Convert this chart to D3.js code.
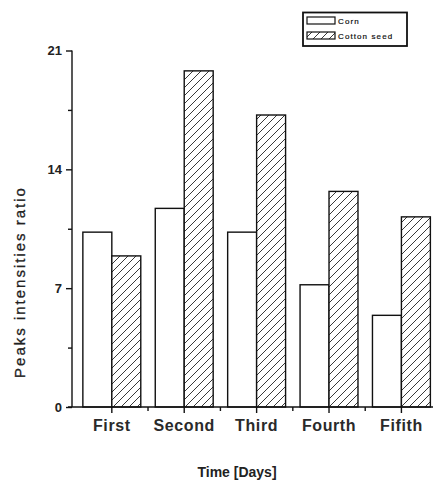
<!DOCTYPE html>
<html>
<head>
<meta charset="utf-8">
<script src="https://cdn.jsdelivr.net/npm/d3@7/dist/d3.min.js"></script>
<style>
  html, body { margin: 0; padding: 0; background: #fff; }
  svg { display: block; font-family: "Liberation Sans", Arial, sans-serif; }
</style>
</head>
<body>
<svg id="chart" width="433" height="481"></svg>
<script>
// Peak intensity ratios per sampling day
const days = ["First", "Second", "Third", "Fourth", "Fifith"];
const cornValues = [10.3, 11.7, 10.3, 7.2, 5.4];
const cottonseedValues = [8.9, 19.8, 17.2, 12.7, 11.2];
const seriesNames = ["Corn", "Cotton seed"];
const yTickValues = [0, 7, 14, 21];
const yMinorTickValues = [3.5, 10.5, 17.5];

const svg = d3.select("#chart");

const plot = { left: 72, top: 50.5, bottom: 407 };
const step = 72.4;

const x = d3.scaleBand()
  .domain(days)
  .range([plot.left, plot.left + step * days.length + step * 0.1])
  .paddingInner(0)
  .paddingOuter(0.05);

const y = d3.scaleLinear().domain([0, 21]).range([plot.bottom, plot.top]);

// Diagonal hatch used for the cottonseed bars
const defs = svg.append("defs");
const hatch = defs.append("pattern")
  .attr("id", "hatch")
  .attr("patternUnits", "userSpaceOnUse")
  .attr("width", 8).attr("height", 8);
hatch.append("rect").attr("width", 8).attr("height", 8).attr("fill", "#fff");
hatch.append("path")
  .attr("d", "M-2,2 L2,-2 M0,8 L8,0 M6,10 L10,6")
  .attr("stroke", "#222").attr("stroke-width", 0.9).attr("fill", "none");

const barW = step * 0.4;
const rows = days.map((d, i) => ({ day: d, corn: cornValues[i], cotton: cottonseedValues[i] }));
const center = d => x(d) + x.bandwidth() / 2;

// Corn bars (open)
svg.append("g").selectAll("rect")
  .data(rows).join("rect")
  .attr("x", d => center(d.day) - barW)
  .attr("y", d => y(d.corn))
  .attr("width", barW)
  .attr("height", d => y(0) - y(d.corn))
  .attr("fill", "#fff").attr("stroke", "#111").attr("stroke-width", 1.4);

// Cottonseed bars (hatched)
svg.append("g").selectAll("rect")
  .data(rows).join("rect")
  .attr("x", d => center(d.day))
  .attr("y", d => y(d.cotton))
  .attr("width", barW)
  .attr("height", d => y(0) - y(d.cotton))
  .attr("fill", "url(#hatch)").attr("stroke", "#111").attr("stroke-width", 1.4);

// Y axis with major and minor ticks
const yAxis = svg.append("g").attr("transform", `translate(${plot.left},0)`);
yAxis.call(d3.axisLeft(y).tickValues(yTickValues).tickSize(6).tickPadding(4).tickFormat(d3.format("d")));
yAxis.append("g").call(d3.axisLeft(y).tickValues(yMinorTickValues).tickSize(4).tickFormat(""))
  .select(".domain").remove();
yAxis.selectAll(".domain").attr("d", `M0,${plot.bottom}V${plot.top}`);
yAxis.selectAll("line, path").attr("stroke", "#111").attr("stroke-width", 1.4);
yAxis.selectAll("text")
  .attr("font-size", 13).attr("font-weight", "bold").attr("fill", "#222")
  .attr("font-family", "Liberation Sans, Arial, sans-serif");

// X axis: category ticks plus minor ticks midway between categories
const xAxis = svg.append("g").attr("transform", `translate(0,${plot.bottom})`);
xAxis.append("line")
  .attr("x1", plot.left - 4).attr("x2", 433)
  .attr("stroke", "#111").attr("stroke-width", 1.4);
xAxis.selectAll(".major").data(days).join("line")
  .attr("class", "major")
  .attr("x1", d => center(d)).attr("x2", d => center(d))
  .attr("y1", 0).attr("y2", 6)
  .attr("stroke", "#111").attr("stroke-width", 1.4);
xAxis.selectAll(".minor").data(days).join("line")
  .attr("class", "minor")
  .attr("x1", d => center(d) + step / 2).attr("x2", d => center(d) + step / 2)
  .attr("y1", 0).attr("y2", 4)
  .attr("stroke", "#111").attr("stroke-width", 1.4);
xAxis.selectAll("text").data(days).join("text")
  .attr("x", d => center(d))
  .attr("y", 24)
  .attr("text-anchor", "middle")
  .attr("font-size", 16).attr("font-weight", "bold").attr("letter-spacing", 0.6)
  .attr("fill", "#2a2a2a")
  .text(d => d);

// Axis titles
svg.append("text")
  .attr("x", 237).attr("y", 477)
  .attr("text-anchor", "middle")
  .attr("font-size", 14).attr("font-weight", "bold").attr("fill", "#222")
  .text("Time [Days]");

svg.append("text")
  .attr("transform", "translate(25,282) rotate(-90)")
  .attr("text-anchor", "middle")
  .attr("font-size", 15).attr("letter-spacing", 2).attr("fill", "#222")
  .attr("stroke", "#222").attr("stroke-width", 0.3)
  .text("Peaks intensities ratio");

// Legend
const legend = svg.append("g");
legend.append("rect")
  .attr("x", 303).attr("y", 12.5).attr("width", 104).attr("height", 33.5)
  .attr("fill", "#fff").attr("stroke", "#111").attr("stroke-width", 1.8);
const fills = ["#fff", "url(#hatch)"];
seriesNames.forEach((name, i) => {
  const yy = 17 + i * 15;
  legend.append("rect")
    .attr("x", 307).attr("y", yy).attr("width", 28).attr("height", 7)
    .attr("fill", fills[i]).attr("stroke", "#111").attr("stroke-width", 1.2);
  legend.append("text")
    .attr("x", 338).attr("y", yy + 6.5)
    .attr("font-size", 8).attr("letter-spacing", 1.1).attr("fill", "#111")
    .attr("stroke", "#111").attr("stroke-width", 0.2)
    .text(name);
});
</script>
</body>
</html>
